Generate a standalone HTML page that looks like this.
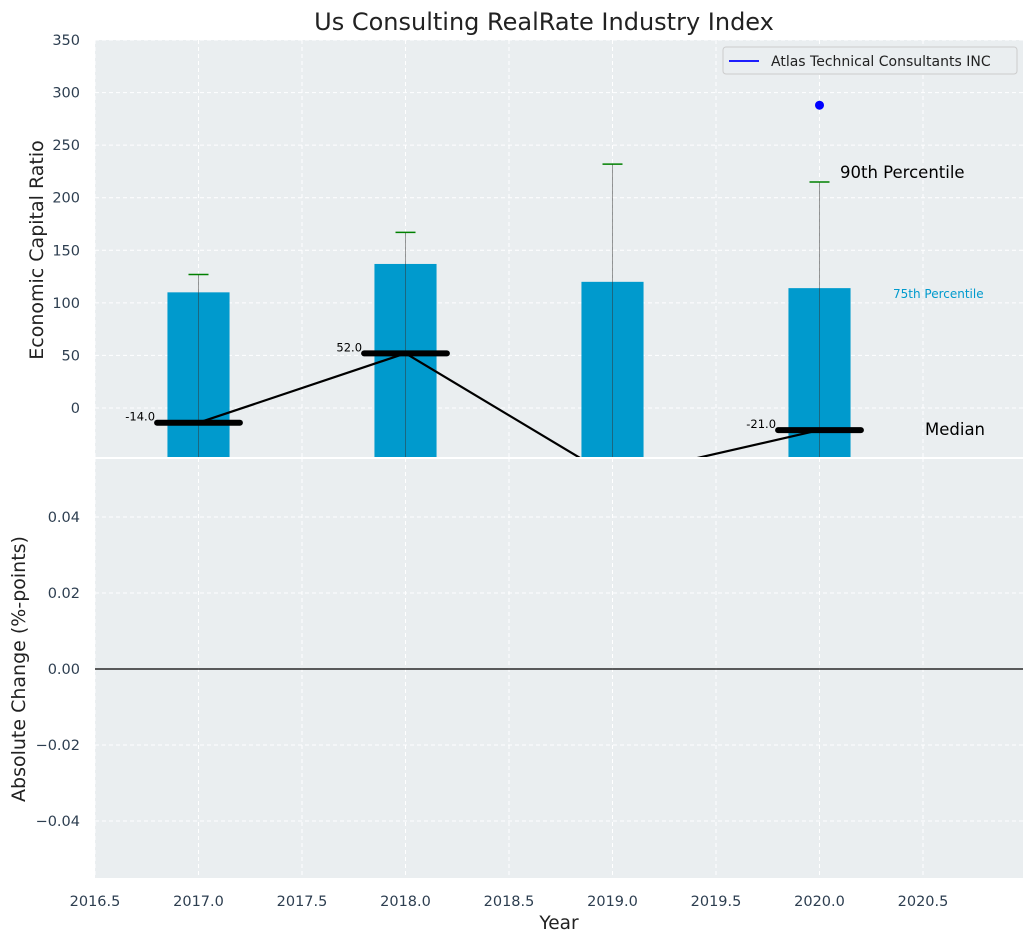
<!DOCTYPE html>
<html><head><meta charset="utf-8"><style>
body{margin:0;background:#fff;}
svg{display:block;font-family:"DejaVu Sans","Liberation Sans",sans-serif;}
</style></head><body>
<svg id="c" width="1034" height="942" xmlns="http://www.w3.org/2000/svg"></svg>
<script>
const years=[2017,2018,2019,2020];
const barValues=[110,137,120,114];
const p90Values=[127,167,232,215];
const medianValues=[-14,52,-66,-21];
const medianLabels=["-14.0","52.0","","-21.0"];
const companyYears=[2020];
const companyValues=[288];
const topTicks=[0,50,100,150,200,250,300,350];
const bottomTicks=[-0.04,-0.02,0,0.02,0.04];
const xTicks=[2016.5,2017,2017.5,2018,2018.5,2019,2019.5,2020,2020.5];

const NS="http://www.w3.org/2000/svg";
const svg=document.getElementById('c');
const L=95,R=1023,T1=40,B1=458,T2=458,B2=878;
const X=v=>L+(v-2016.5)*207;
const Y1=v=>408-v*368/350;
const Y2=v=>669-v*3800;
function el(t,a,p){const e=document.createElementNS(NS,t);for(const k in a)e.setAttribute(k,a[k]);(p||svg).appendChild(e);return e;}
function tx(s,a,p){const e=el('text',a,p);e.textContent=s;return e;}

const defs=el('defs',{});
const c1=el('clipPath',{id:'c1'},defs);el('rect',{x:L,y:T1,width:R-L,height:B1-T1},c1);

let r=el('rect',{x:L,y:T1,width:R-L,height:B1-T1,fill:'#eaeef0'});


r=el('rect',{x:L,y:T2,width:R-L,height:B2-T2,fill:'#eaeef0'});



xTicks.forEach(v=>{
  el('line',{x1:X(v),x2:X(v),y1:T1,y2:B1,stroke:'#fff','stroke-dasharray':'4,3','stroke-width':1});
  el('line',{x1:X(v),x2:X(v),y1:T2,y2:B2,stroke:'#fff','stroke-dasharray':'4,3','stroke-width':1});
  const t=tx(v.toFixed(1),{x:X(v),y:906,'text-anchor':'middle','font-size':14.5,fill:'#2d3e50'});
  
  
});
topTicks.forEach(v=>{
  el('line',{x1:L,x2:R,y1:Y1(v),y2:Y1(v),stroke:'#fff','stroke-dasharray':'4,3'});
  const t=tx(String(v),{x:80,y:Y1(v)+5,'text-anchor':'end','font-size':14.5,fill:'#2d3e50'});
  
  
});
bottomTicks.forEach(v=>{
  el('line',{x1:L,x2:R,y1:Y2(v),y2:Y2(v),stroke:'#fff','stroke-dasharray':'4,3'});
  const t=tx((v<0?'\u2212':'')+Math.abs(v).toFixed(2),{x:80,y:Y2(v)+5,'text-anchor':'end','font-size':14.5,fill:'#2d3e50'});
  
  
});

const g1=el('g',{'clip-path':'url(#c1)'});
years.forEach((yr,i)=>{
  const b=el('rect',{x:X(yr-0.15),y:Y1(barValues[i]),width:0.3*207,height:B1-Y1(barValues[i])+5,fill:'#009acd'},g1);
  
  
  el('line',{x1:X(yr),x2:X(yr),y1:Y1(p90Values[i]),y2:B1,stroke:'#333','stroke-opacity':0.5,'stroke-width':1},g1);
  const c=el('line',{x1:X(yr)-10,x2:X(yr)+10,y1:Y1(p90Values[i]),y2:Y1(p90Values[i]),stroke:'green','stroke-width':1.5},g1);
  
  
});
const pts=years.map((yr,i)=>X(yr)+','+Y1(medianValues[i])).join(' ');
const ml=el('polyline',{points:pts,fill:'none',stroke:'#000','stroke-width':2.2},g1);


years.forEach((yr,i)=>{
  const m=el('line',{x1:X(yr-0.2),x2:X(yr+0.2),y1:Y1(medianValues[i]),y2:Y1(medianValues[i]),stroke:'#000','stroke-width':6,'stroke-linecap':'round'},g1);
  
  
  if(medianLabels[i]){
    const t=tx(medianLabels[i],{x:X(yr-0.21),y:Y1(medianValues[i])-2,'text-anchor':'end','font-size':11.5,fill:'#000'},g1);
    
    
  }
});
companyYears.forEach((yr,i)=>{
  const d=el('circle',{cx:X(yr),cy:Y1(companyValues[i]),r:4.5,fill:'blue'},g1);
  
  
});
let t;
t=tx('90th Percentile',{x:840,y:178,'font-size':16.5,fill:'#000'});

t=tx('75th Percentile',{x:893,y:298,'font-size':12,fill:'#009acd'});

t=tx('Median',{x:925,y:435,'font-size':16.5,fill:'#000'});


const lg=el('g',{});


el('rect',{x:723,y:47,width:294,height:27,rx:3,fill:'#eaeef0',stroke:'#ccc'},lg);
el('line',{x1:729,x2:759,y1:61,y2:61,stroke:'blue','stroke-width':1.8},lg);
t=tx('Atlas Technical Consultants INC',{x:771,y:66,'font-size':14,fill:'#222'},lg);


el('line',{x1:L,x2:R,y1:458,y2:458,stroke:'#fff','stroke-width':2});
const z=el('line',{x1:L,x2:R,y1:Y2(0),y2:Y2(0),stroke:'#000','stroke-width':1.2});


t=tx('Us Consulting RealRate Industry Index',{x:544,y:30,'text-anchor':'middle','font-size':24,fill:'#222'});

t=tx('Year',{x:559,y:929,'text-anchor':'middle','font-size':18.5,fill:'#222'});

t=tx('Economic Capital Ratio',{x:0,y:0,'text-anchor':'middle','font-size':19,fill:'#222',transform:'translate(43,250) rotate(-90)'});

t=tx('Absolute Change (%-points)',{x:0,y:0,'text-anchor':'middle','font-size':19,fill:'#222',transform:'translate(25,669) rotate(-90)'});

</script>
</body></html>
